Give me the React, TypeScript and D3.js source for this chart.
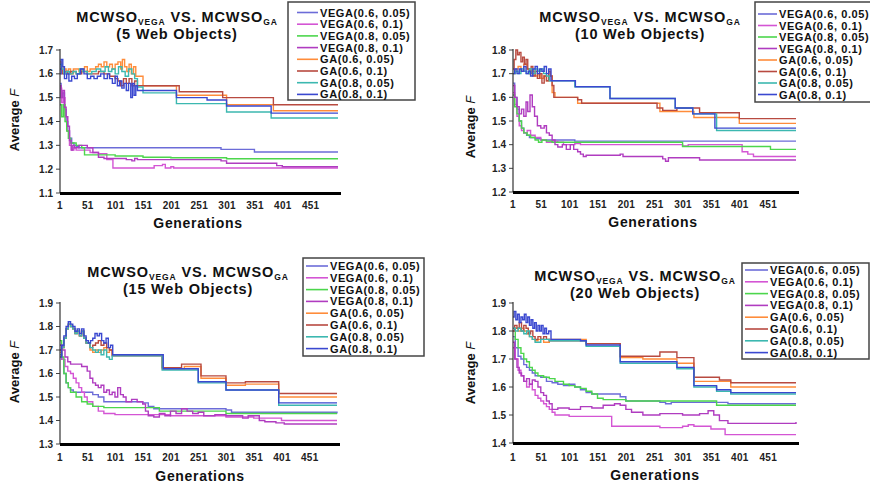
import React from 'react';
import * as d3 from 'd3';

type Pt = [number, number];

const X_TICKS = [1, 51, 101, 151, 201, 251, 301, 351, 401, 451];
const SERIES_NAMES = ['VEGA(0.6, 0.05)', 'VEGA(0.6, 0.1)', 'VEGA(0.8, 0.05)', 'VEGA(0.8, 0.1)', 'GA(0.6, 0.05)', 'GA(0.6, 0.1)', 'GA(0.8, 0.05)', 'GA(0.8, 0.1)'];
const COLORS = ['#6c6cd8', '#d455d4', '#4cd64c', '#b03cc0', '#ff8c3a', '#b84a40', '#3cb8b0', '#3a48d0'];
const PANEL_SUBTITLES = ['(5 Web Objects)', '(10 Web Objects)', '(15 Web Objects)', '(20 Web Objects)'];

const Y_TICKS_5 = [1.1, 1.2, 1.3, 1.4, 1.5, 1.6, 1.7];
const Y_TICKS_10 = [1.2, 1.3, 1.4, 1.5, 1.6, 1.7, 1.8];
const Y_TICKS_15 = [1.3, 1.4, 1.5, 1.6, 1.7, 1.8, 1.9];
const Y_TICKS_20 = [1.4, 1.5, 1.6, 1.7, 1.8, 1.9];

// ---------- 5 Web Objects ----------
const W5_VEGA_06_005: Pt[] = [[1,1.56],[3,1.50],[6,1.52],[9,1.45],[12,1.40],[15,1.36],[18,1.33],[22,1.31],[26,1.30],[30,1.295],[35,1.29],[290,1.283],[350,1.272],[500,1.272]];
const W5_VEGA_06_01: Pt[] = [[1,1.54],[4,1.48],[7,1.50],[10,1.42],[14,1.36],[18,1.30],[22,1.28],[26,1.29],[30,1.28],[40,1.28],[55,1.27],[70,1.265],[85,1.24],[96,1.205],[170,1.215],[185,1.22],[190,1.205],[200,1.21],[205,1.205],[500,1.205]];
const W5_VEGA_08_005: Pt[] = [[1,1.47],[4,1.42],[7,1.47],[10,1.40],[13,1.36],[16,1.33],[20,1.31],[30,1.30],[40,1.29],[45,1.26],[100,1.255],[150,1.25],[200,1.248],[300,1.244],[500,1.244]];
const W5_VEGA_08_01: Pt[] = [[1,1.55],[3,1.50],[6,1.53],[9,1.46],[12,1.42],[15,1.38],[18,1.32],[21,1.28],[24,1.30],[27,1.29],[35,1.30],[50,1.29],[60,1.27],[70,1.25],[80,1.245],[120,1.24],[130,1.235],[135,1.245],[140,1.24],[290,1.235],[300,1.225],[390,1.215],[400,1.21],[500,1.21]];
const W5_GA_06_005: Pt[] = [[1,1.65],[4,1.63],[8,1.62],[12,1.61],[16,1.62],[20,1.60],[25,1.62],[30,1.62],[35,1.61],[40,1.62],[45,1.63],[50,1.61],[55,1.62],[60,1.62],[65,1.63],[70,1.64],[75,1.63],[80,1.65],[85,1.63],[90,1.64],[95,1.62],[100,1.64],[105,1.65],[110,1.62],[113,1.66],[117,1.63],[121,1.61],[125,1.64],[129,1.60],[133,1.63],[137,1.59],[150,1.55],[210,1.51],[300,1.47],[384,1.445],[500,1.445]];
const W5_GA_06_01: Pt[] = [[1,1.62],[5,1.60],[10,1.61],[15,1.60],[20,1.61],[30,1.60],[40,1.61],[50,1.60],[60,1.60],[70,1.61],[80,1.60],[90,1.59],[100,1.58],[105,1.57],[110,1.55],[115,1.58],[120,1.56],[125,1.58],[130,1.55],[135,1.57],[140,1.55],[215,1.525],[293,1.50],[384,1.47],[500,1.47]];
const W5_GA_08_005: Pt[] = [[1,1.64],[4,1.62],[8,1.60],[12,1.61],[18,1.60],[24,1.61],[30,1.60],[36,1.62],[42,1.61],[50,1.60],[58,1.61],[66,1.62],[74,1.61],[82,1.63],[88,1.61],[94,1.62],[100,1.60],[106,1.63],[112,1.61],[118,1.59],[124,1.62],[130,1.60],[135,1.58],[140,1.545],[150,1.52],[210,1.475],[300,1.44],[380,1.415],[500,1.415]];
const W5_GA_08_01: Pt[] = [[1,1.60],[3,1.66],[6,1.63],[9,1.58],[13,1.60],[17,1.57],[22,1.59],[27,1.58],[32,1.60],[38,1.62],[44,1.60],[50,1.58],[56,1.59],[62,1.58],[68,1.59],[74,1.60],[80,1.58],[86,1.60],[90,1.58],[95,1.56],[100,1.59],[104,1.55],[108,1.57],[112,1.54],[116,1.56],[120,1.53],[124,1.56],[128,1.50],[131,1.56],[134,1.51],[137,1.55],[140,1.53],[210,1.50],[265,1.49],[300,1.465],[380,1.435],[500,1.435]];

// ---------- 10 Web Objects ----------
const W10_VEGA_06_005: Pt[] = [[1,1.66],[4,1.60],[8,1.55],[12,1.50],[16,1.47],[20,1.45],[25,1.44],[30,1.43],[40,1.425],[50,1.42],[110,1.415],[500,1.415]];
const W10_VEGA_06_01: Pt[] = [[1,1.62],[4,1.57],[8,1.52],[12,1.48],[16,1.46],[20,1.45],[26,1.46],[32,1.44],[40,1.43],[50,1.42],[60,1.41],[70,1.415],[80,1.41],[90,1.40],[100,1.40],[110,1.405],[120,1.40],[300,1.395],[310,1.40],[405,1.37],[415,1.36],[425,1.35],[500,1.35]];
const W10_VEGA_08_005: Pt[] = [[1,1.61],[4,1.56],[8,1.53],[12,1.50],[16,1.47],[20,1.45],[26,1.44],[32,1.43],[40,1.42],[46,1.41],[52,1.42],[60,1.415],[70,1.41],[300,1.392],[455,1.38],[500,1.38]];
const W10_VEGA_08_01: Pt[] = [[1,1.65],[4,1.60],[8,1.56],[12,1.53],[16,1.55],[20,1.52],[24,1.58],[27,1.54],[31,1.61],[35,1.56],[39,1.52],[44,1.48],[50,1.47],[56,1.48],[60,1.45],[65,1.44],[70,1.42],[75,1.40],[80,1.39],[88,1.40],[95,1.38],[102,1.40],[108,1.38],[115,1.37],[120,1.36],[125,1.35],[130,1.355],[190,1.36],[195,1.35],[265,1.34],[270,1.33],[275,1.345],[330,1.335],[500,1.335]];
const W10_GA_06_005: Pt[] = [[1,1.70],[5,1.72],[10,1.73],[15,1.71],[20,1.74],[25,1.72],[30,1.70],[35,1.71],[40,1.69],[45,1.70],[50,1.68],[55,1.69],[60,1.67],[65,1.69],[70,1.62],[75,1.60],[115,1.575],[260,1.54],[320,1.515],[400,1.49],[500,1.49]];
const W10_GA_06_01: Pt[] = [[1,1.72],[3,1.76],[6,1.80],[9,1.78],[12,1.79],[15,1.75],[18,1.77],[21,1.74],[24,1.76],[27,1.72],[30,1.70],[33,1.73],[36,1.69],[40,1.71],[44,1.68],[48,1.70],[52,1.66],[56,1.69],[60,1.67],[64,1.71],[67,1.69],[70,1.65],[73,1.60],[115,1.59],[122,1.575],[255,1.555],[265,1.545],[290,1.555],[330,1.535],[400,1.51],[500,1.51]];
const W10_GA_08_005: Pt[] = [[1,1.70],[5,1.71],[10,1.70],[15,1.72],[20,1.71],[25,1.70],[30,1.72],[35,1.70],[40,1.72],[45,1.71],[50,1.72],[55,1.70],[60,1.69],[65,1.67],[110,1.645],[172,1.595],[287,1.555],[318,1.53],[360,1.46],[500,1.46]];
const W10_GA_08_01: Pt[] = [[1,1.70],[4,1.72],[8,1.70],[12,1.72],[16,1.71],[20,1.73],[24,1.70],[28,1.71],[32,1.69],[36,1.72],[40,1.73],[44,1.70],[48,1.72],[52,1.71],[56,1.73],[60,1.70],[64,1.72],[68,1.67],[111,1.645],[172,1.595],[287,1.555],[318,1.53],[357,1.47],[500,1.47]];

// ---------- 15 Web Objects ----------
const W15_VEGA_06_005: Pt[] = [[1,1.72],[4,1.66],[8,1.60],[12,1.56],[16,1.54],[20,1.53],[25,1.52],[60,1.51],[70,1.50],[80,1.48],[150,1.475],[160,1.46],[170,1.45],[300,1.445],[310,1.435],[500,1.43]];
const W15_VEGA_06_01: Pt[] = [[1,1.70],[5,1.66],[10,1.63],[15,1.61],[20,1.60],[25,1.58],[30,1.56],[35,1.54],[40,1.52],[45,1.50],[50,1.48],[60,1.46],[70,1.44],[80,1.43],[100,1.425],[200,1.42],[300,1.415],[350,1.41],[400,1.40],[500,1.40]];
const W15_VEGA_08_005: Pt[] = [[1,1.74],[4,1.67],[8,1.60],[12,1.56],[16,1.54],[20,1.52],[30,1.50],[40,1.48],[50,1.47],[60,1.46],[80,1.455],[180,1.44],[200,1.44],[300,1.43],[500,1.43]];
const W15_VEGA_08_01: Pt[] = [[1,1.72],[5,1.70],[10,1.67],[15,1.65],[20,1.64],[30,1.64],[40,1.63],[50,1.61],[55,1.58],[60,1.56],[65,1.55],[70,1.54],[75,1.55],[80,1.52],[85,1.53],[90,1.51],[95,1.52],[100,1.50],[105,1.54],[110,1.51],[115,1.50],[120,1.48],[130,1.49],[140,1.48],[150,1.47],[155,1.44],[160,1.42],[170,1.415],[180,1.43],[190,1.42],[200,1.44],[210,1.43],[220,1.45],[230,1.44],[240,1.43],[250,1.435],[260,1.42],[280,1.425],[300,1.42],[330,1.41],[340,1.42],[360,1.40],[370,1.395],[390,1.39],[405,1.385],[500,1.385]];
const W15_GA_06_005: Pt[] = [[1,1.69],[4,1.71],[8,1.75],[12,1.79],[16,1.81],[20,1.80],[24,1.79],[28,1.77],[32,1.78],[36,1.76],[40,1.78],[44,1.75],[48,1.73],[55,1.70],[60,1.69],[65,1.70],[70,1.69],[75,1.70],[80,1.71],[85,1.69],[90,1.70],[95,1.68],[185,1.62],[225,1.63],[255,1.58],[300,1.55],[335,1.555],[395,1.50],[500,1.50]];
const W15_GA_06_01: Pt[] = [[1,1.70],[4,1.71],[8,1.75],[12,1.79],[16,1.81],[20,1.80],[24,1.79],[28,1.77],[32,1.78],[36,1.76],[40,1.78],[44,1.75],[48,1.73],[55,1.71],[60,1.72],[65,1.73],[70,1.74],[75,1.72],[80,1.73],[85,1.71],[90,1.70],[95,1.675],[185,1.625],[220,1.64],[255,1.59],[300,1.56],[335,1.565],[395,1.515],[500,1.515]];
const W15_GA_08_005: Pt[] = [[1,1.68],[4,1.71],[8,1.75],[12,1.79],[16,1.81],[20,1.80],[24,1.79],[28,1.77],[32,1.78],[36,1.76],[40,1.78],[44,1.75],[48,1.73],[55,1.71],[60,1.70],[65,1.69],[70,1.70],[75,1.68],[80,1.70],[85,1.67],[90,1.66],[95,1.675],[185,1.615],[250,1.56],[300,1.53],[395,1.465],[500,1.465]];
const W15_GA_08_01: Pt[] = [[1,1.67],[4,1.72],[8,1.76],[12,1.80],[16,1.82],[20,1.81],[24,1.80],[28,1.78],[32,1.79],[36,1.77],[40,1.79],[44,1.76],[48,1.74],[52,1.73],[56,1.74],[60,1.75],[64,1.77],[68,1.76],[72,1.77],[76,1.74],[80,1.73],[84,1.75],[88,1.71],[92,1.72],[96,1.68],[187,1.62],[250,1.565],[300,1.53],[395,1.475],[500,1.475]];

// ---------- 20 Web Objects ----------
const W20_VEGA_06_005: Pt[] = [[1,1.78],[5,1.74],[10,1.71],[15,1.70],[20,1.68],[25,1.67],[30,1.66],[35,1.65],[40,1.64],[50,1.635],[60,1.62],[70,1.615],[80,1.61],[90,1.605],[100,1.61],[110,1.60],[120,1.59],[130,1.58],[140,1.575],[190,1.565],[200,1.55],[260,1.545],[270,1.54],[280,1.545],[360,1.545],[380,1.54],[500,1.54]];
const W20_VEGA_06_01: Pt[] = [[1,1.74],[5,1.70],[10,1.66],[15,1.64],[20,1.62],[25,1.60],[30,1.61],[35,1.59],[40,1.57],[45,1.56],[50,1.55],[55,1.54],[60,1.53],[65,1.52],[70,1.51],[75,1.50],[100,1.495],[150,1.495],[175,1.46],[260,1.455],[300,1.46],[310,1.465],[320,1.46],[350,1.45],[375,1.43],[500,1.43]];
const W20_VEGA_08_005: Pt[] = [[1,1.80],[5,1.77],[10,1.74],[15,1.72],[20,1.70],[25,1.69],[30,1.67],[35,1.66],[40,1.65],[45,1.64],[55,1.635],[65,1.63],[75,1.62],[90,1.61],[100,1.605],[110,1.60],[120,1.595],[130,1.585],[140,1.575],[150,1.56],[160,1.555],[200,1.55],[360,1.535],[500,1.535]];
const W20_VEGA_08_01: Pt[] = [[1,1.76],[4,1.70],[8,1.67],[12,1.65],[16,1.64],[20,1.62],[25,1.63],[30,1.61],[35,1.625],[40,1.62],[45,1.60],[50,1.58],[55,1.57],[60,1.55],[65,1.54],[70,1.52],[80,1.525],[100,1.52],[120,1.53],[140,1.525],[160,1.535],[180,1.54],[190,1.535],[200,1.52],[210,1.51],[230,1.50],[260,1.505],[300,1.50],[330,1.505],[345,1.515],[355,1.50],[365,1.48],[380,1.47],[500,1.475]];
const W20_GA_06_005: Pt[] = [[1,1.80],[5,1.81],[10,1.80],[15,1.81],[20,1.80],[25,1.79],[30,1.78],[35,1.77],[40,1.765],[45,1.77],[55,1.76],[65,1.77],[130,1.755],[190,1.705],[230,1.70],[290,1.685],[320,1.62],[385,1.60],[500,1.60]];
const W20_GA_06_01: Pt[] = [[1,1.80],[4,1.82],[8,1.81],[12,1.83],[16,1.80],[20,1.82],[24,1.81],[28,1.79],[32,1.80],[36,1.78],[40,1.77],[45,1.78],[50,1.77],[55,1.78],[60,1.77],[65,1.765],[130,1.755],[190,1.71],[260,1.725],[290,1.705],[320,1.635],[365,1.625],[385,1.615],[500,1.615]];
const W20_GA_08_005: Pt[] = [[1,1.81],[5,1.80],[10,1.81],[15,1.80],[20,1.79],[25,1.80],[30,1.78],[35,1.77],[40,1.76],[50,1.77],[65,1.765],[130,1.745],[190,1.685],[290,1.665],[320,1.60],[360,1.585],[385,1.575],[500,1.575]];
const W20_GA_08_01: Pt[] = [[1,1.85],[3,1.87],[6,1.84],[9,1.86],[12,1.83],[15,1.85],[18,1.84],[21,1.86],[24,1.83],[27,1.85],[30,1.82],[33,1.84],[36,1.81],[39,1.83],[42,1.80],[45,1.82],[48,1.80],[51,1.82],[54,1.79],[57,1.81],[60,1.79],[64,1.80],[68,1.77],[120,1.765],[130,1.75],[190,1.69],[290,1.67],[320,1.605],[360,1.59],[385,1.58],[500,1.58]];

const W5 = [W5_VEGA_06_005, W5_VEGA_06_01, W5_VEGA_08_005, W5_VEGA_08_01, W5_GA_06_005, W5_GA_06_01, W5_GA_08_005, W5_GA_08_01];
const W10 = [W10_VEGA_06_005, W10_VEGA_06_01, W10_VEGA_08_005, W10_VEGA_08_01, W10_GA_06_005, W10_GA_06_01, W10_GA_08_005, W10_GA_08_01];
const W15 = [W15_VEGA_06_005, W15_VEGA_06_01, W15_VEGA_08_005, W15_VEGA_08_01, W15_GA_06_005, W15_GA_06_01, W15_GA_08_005, W15_GA_08_01];
const W20 = [W20_VEGA_06_005, W20_VEGA_06_01, W20_VEGA_08_005, W20_VEGA_08_01, W20_GA_06_005, W20_GA_06_01, W20_GA_08_005, W20_GA_08_01];

interface Layout {
  x0: number; x1: number; yTop: number; yBot: number;
  titleX: number; titleY: number;
  lgX: number; lgY: number; lgW: number; lgH: number; lgRow0: number; lgDy: number; lgL0: number; lgL1: number; lgT: number;
  tickY: number; genX: number; genY: number; ylabX: number; ylabY: number;
}

const PANELS: { sub: string; yTicks: number[]; data: Pt[][]; L: Layout }[] = [
  { sub: PANEL_SUBTITLES[0], yTicks: Y_TICKS_5, data: W5,
    L: { x0: 60, x1: 338, yTop: 50, yBot: 193, titleX: 177, titleY: 22,
      lgX: 288, lgY: 2, lgW: 127, lgH: 98, lgRow0: 12.5, lgDy: 11.7, lgL0: 297, lgL1: 318, lgT: 320,
      tickY: 209, genX: 198, genY: 228, ylabX: 19, ylabY: 120 } },
  { sub: PANEL_SUBTITLES[1], yTicks: Y_TICKS_10, data: W10,
    L: { x0: 513, x1: 796, yTop: 50, yBot: 192, titleX: 640, titleY: 22,
      lgX: 755, lgY: 2, lgW: 125, lgH: 100, lgRow0: 14, lgDy: 11.5, lgL0: 758, lgL1: 777, lgT: 779,
      tickY: 208, genX: 653, genY: 227, ylabX: 475, ylabY: 127 } },
  { sub: PANEL_SUBTITLES[2], yTicks: Y_TICKS_15, data: W15,
    L: { x0: 60, x1: 337, yTop: 303, yBot: 444, titleX: 188, titleY: 277,
      lgX: 303, lgY: 258, lgW: 121, lgH: 98, lgRow0: 266, lgDy: 11.8, lgL0: 306, lgL1: 328, lgT: 330,
      tickY: 461, genX: 200, genY: 481, ylabX: 19, ylabY: 372 } },
  { sub: PANEL_SUBTITLES[3], yTicks: Y_TICKS_20, data: W20,
    L: { x0: 513, x1: 796, yTop: 303, yBot: 443, titleX: 635, titleY: 281,
      lgX: 742, lgY: 263, lgW: 127, lgH: 96, lgRow0: 270, lgDy: 11.8, lgL0: 745, lgL1: 768, lgT: 770,
      tickY: 461, genX: 655, genY: 480, ylabX: 475, ylabY: 373 } },
];

const FONT = "'Liberation Sans', Arial, sans-serif";

function Panel({ sub, yTicks, data, L }: { sub: string; yTicks: number[]; data: Pt[][]; L: Layout }) {
  const x = d3.scaleLinear().domain([1, 500]).range([L.x0, L.x1]);
  const y = d3.scaleLinear().domain([yTicks[0], yTicks[yTicks.length - 1]]).range([L.yBot, L.yTop]);
  const line = d3.line<Pt>().x(d => x(d[0])).y(d => y(d[1])).curve(d3.curveStepAfter);
  return (
    <g fontFamily={FONT} fontWeight="bold">
      <text x={L.titleX} y={L.titleY} textAnchor="middle" fontSize={14.5} letterSpacing={0.9} fill="#111">
        MCWSO<tspan fontSize={8.5} dy={3}>VEGA</tspan><tspan dy={-3}> VS. MCWSO</tspan><tspan fontSize={8.5} dy={3}>GA</tspan>
      </text>
      <text x={L.titleX} y={L.titleY + 17} textAnchor="middle" fontSize={14.5} letterSpacing={0.8} fill="#111">{sub}</text>
      {yTicks.map(t => (
        <g key={t}>
          <line x1={L.x0 - 4} x2={L.x0} y1={y(t)} y2={y(t)} stroke="#444" strokeWidth={1} />
          <text x={L.x0 - 7} y={y(t) + 3.5} textAnchor="end" fontSize={10} fill="#222">{t.toFixed(1)}</text>
        </g>
      ))}
      {X_TICKS.map(t => (
        <text key={t} x={x(t)} y={L.tickY} textAnchor="middle" fontSize={10} letterSpacing={0.3} fill="#222">{t}</text>
      ))}
      <text x={L.genX} y={L.genY} textAnchor="middle" fontSize={14} letterSpacing={0.7} fill="#111">Generations</text>
      <text transform={`translate(${L.ylabX},${L.ylabY}) rotate(-90)`} textAnchor="middle" fontSize={13} fill="#111">
        Average <tspan fontStyle="italic" fontWeight="normal">F</tspan>
      </text>
      {data.map((s, i) => (
        <path key={i} d={line(s) || ''} fill="none" stroke={COLORS[i]} strokeWidth={1.4} />
      ))}
      <line x1={L.x0} x2={L.x0} y1={L.yTop - 1} y2={L.yBot} stroke="#333" strokeWidth={1.2} />
      <line x1={L.x0} x2={L.x1 + 3} y1={L.yBot + 0.5} y2={L.yBot + 0.5} stroke="#000" strokeWidth={3} />
      <rect x={L.lgX} y={L.lgY} width={L.lgW} height={L.lgH} fill="#fff" stroke="#444" strokeWidth={1.5} />
      {SERIES_NAMES.map((n, i) => (
        <g key={n}>
          <line x1={L.lgL0} x2={L.lgL1} y1={L.lgRow0 + i * L.lgDy} y2={L.lgRow0 + i * L.lgDy} stroke={COLORS[i]} strokeWidth={1.6} />
          <text x={L.lgT} y={L.lgRow0 + i * L.lgDy + 4} fontSize={11} letterSpacing={0.6} fill="#111">{n}</text>
        </g>
      ))}
    </g>
  );
}

export default function App() {
  return (
    <svg width={870} height={486} style={{ position: 'absolute', left: 0, top: 0, background: '#fff' }}>
      <rect width={870} height={486} fill="#fff" />
      {PANELS.map((p, i) => <Panel key={i} {...p} />)}
    </svg>
  );
}
